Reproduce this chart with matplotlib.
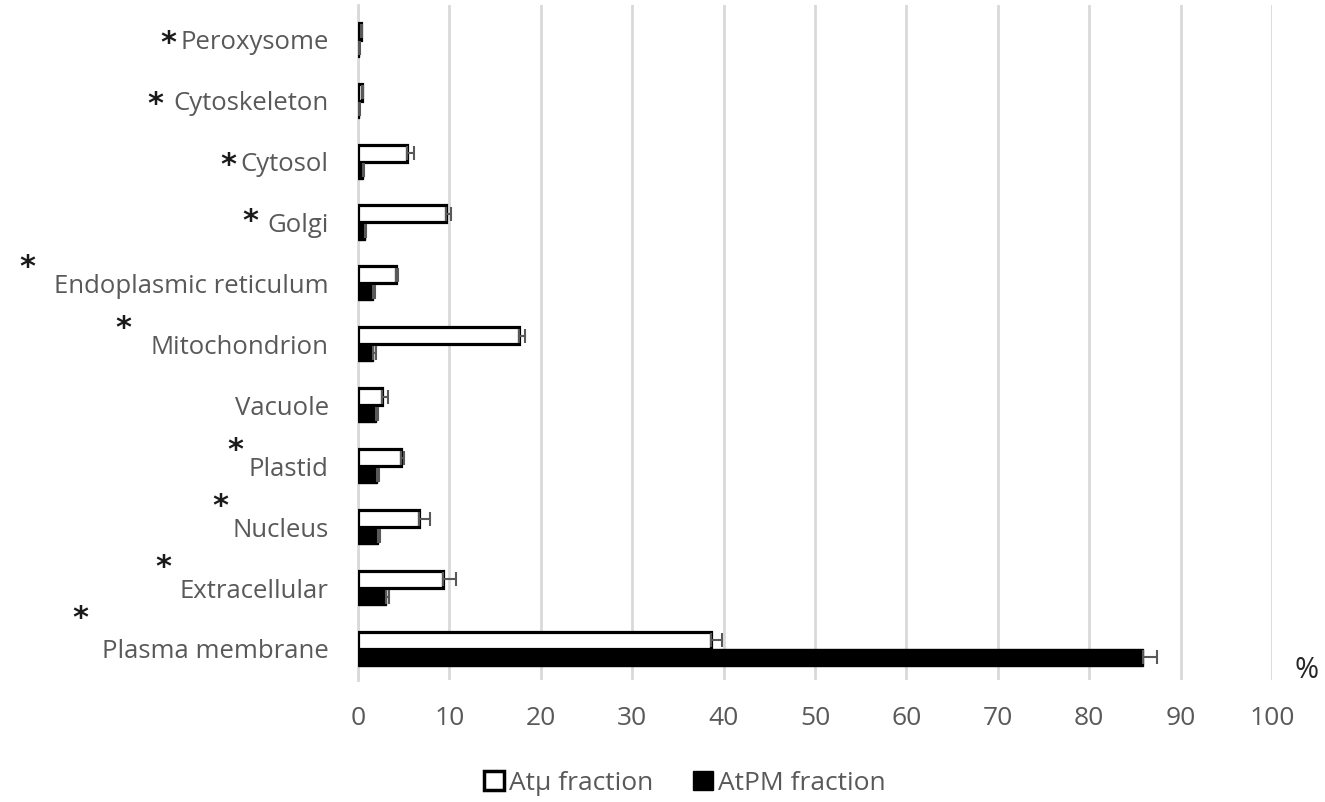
import numpy as np
import matplotlib.pyplot as plt
from matplotlib.patches import Patch

compartments = ['Plasma membrane', 'Extracellular', 'Nucleus', 'Plastid', 'Vacuole',
                'Mitochondrion', 'Endoplasmic reticulum', 'Golgi', 'Cytosol',
                'Cytoskeleton', 'Peroxysome']
atmu = [38.6, 9.3, 6.7, 4.7, 2.6, 17.6, 4.2, 9.6, 5.4, 0.4, 0.3]
atmu_err = [1.2, 1.4, 1.2, 0.3, 0.7, 0.7, 0.2, 0.6, 0.7, 0.1, 0.1]
atpm = [85.9, 3.1, 2.2, 2.1, 2.0, 1.6, 1.6, 0.8, 0.6, 0.1, 0.1]
atpm_err = [1.5, 0.3, 0.2, 0.2, 0.2, 0.4, 0.3, 0.1, 0.1, 0.1, 0.1]

# significance stars: (dx, dy) offset in pixels from the label anchor
stars = {'Peroxysome': (-190, 0), 'Cytoskeleton': (-203, 0), 'Cytosol': (-130, 0),
         'Golgi': (-108, 5), 'Endoplasmic reticulum': (-331, 20),
         'Mitochondrion': (-235, 20), 'Plastid': (-123, 20), 'Nucleus': (-138, 25),
         'Extracellular': (-195, 25), 'Plasma membrane': (-278, 35)}

grey = '#595959'
fig = plt.figure(figsize=(13.25, 8.02), dpi=100)
ax = fig.add_axes([358/1325, 1-680/802, (1272-358)/1325, 675/802])

y = np.arange(len(compartments))
h = 0.28
ax.barh(y + h/2, atmu, height=h, color='white', edgecolor='black', linewidth=2.3,
        xerr=[np.zeros(len(atmu)), atmu_err], error_kw=dict(ecolor=grey, capsize=5, elinewidth=1.5, capthick=1.5),
        zorder=3)
ax.barh(y - h/2, atpm, height=h, color='black', edgecolor='black', linewidth=1,
        xerr=[np.zeros(len(atpm)), atpm_err], error_kw=dict(ecolor=grey, capsize=5, elinewidth=1.5, capthick=1.5),
        zorder=3)

ax.set_xlim(0, 100)
ax.set_ylim(-0.51, 10.57)
ax.set_xticks(np.arange(0, 101, 10))
ax.set_yticks(y)
ax.set_yticklabels(compartments)
ax.xaxis.grid(True, color='#d9d9d9', linewidth=2)
ax.set_axisbelow(True)
for s in ['top', 'right', 'bottom']:
    ax.spines[s].set_visible(False)
ax.spines['left'].set_color('#d9d9d9')
ax.spines['left'].set_linewidth(2)
ax.tick_params(axis='both', length=0, labelcolor=grey)
ax.tick_params(axis='x', pad=19, labelsize=19)
ax.tick_params(axis='y', pad=21, labelsize=18.5)
for lab in ax.get_xticklabels() + ax.get_yticklabels():
    lab.set_family('Open Sans')

for i, name in enumerate(compartments):
    if name in stars:
        dx, dy = stars[name]
        ax.annotate('*', xy=(0, i), xytext=(dx * 0.72, dy * 0.72 - 3), textcoords='offset points',
                    ha='center', va='center', fontsize=22, fontweight='bold', color='#1a1a1a',
                    annotation_clip=False)

fig.text(1307/1325, 1-670/802, '%', fontsize=21, color='#262626', ha='center', va='center',
         family='Open Sans')

handles = [Patch(facecolor='white', edgecolor='black', linewidth=2.5, label='Atμ fraction'),
           Patch(facecolor='black', edgecolor='black', label='AtPM fraction')]
fig.legend(handles=handles, loc='center', bbox_to_anchor=(685/1325, 1-783/802), ncol=2,
           frameon=False, prop={'family': 'Open Sans', 'size': 19}, labelcolor=grey,
           handlelength=0.75, handleheight=0.75, handletextpad=0.2, columnspacing=1.5)

fig.savefig('out.png', dpi=100)
